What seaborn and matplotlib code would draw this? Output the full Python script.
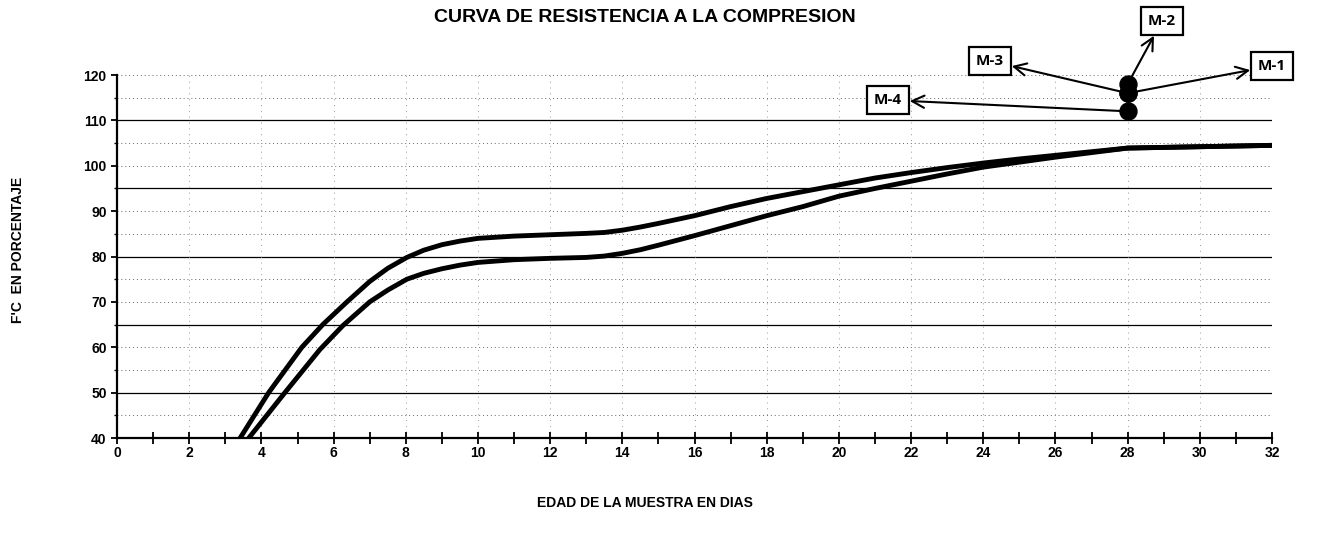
import numpy as np
import pandas as pd
import matplotlib
matplotlib.use("Agg")
import matplotlib.pyplot as plt
import seaborn as sns

# Reference strength-gain envelope (% of f'c versus age in days)
upper_days = [3.41, 4.2, 5.12, 5.7, 6.37, 7.0, 7.5, 8.03, 8.5, 9, 9.5, 10, 11, 12, 13,
              13.5, 14, 14.5, 15, 16, 17, 18, 19, 20, 21, 22, 23, 24, 25, 26, 27, 28,
              30, 32]
upper_pct = [40, 50, 60, 65, 70, 74.5, 77.4, 79.8, 81.4, 82.6, 83.4, 84, 84.5, 84.8,
             85.1, 85.3, 85.8, 86.5, 87.3, 89, 91, 92.8, 94.3, 95.8, 97.3, 98.5, 99.6,
             100.6, 101.5, 102.3, 103.1, 103.9, 104.2, 104.5]
lower_days = [3.65, 4.65, 5.62, 6.26, 7.0, 7.5, 8.03, 8.5, 9, 9.5, 10, 11, 12, 13, 13.5,
              14, 14.5, 15, 16, 17, 18, 19, 20, 21, 22, 23, 24, 25, 26, 27, 28, 30, 32]
lower_pct = [40, 50, 59.5, 64.8, 70, 72.6, 75, 76.3, 77.3, 78.1, 78.7, 79.3, 79.6, 79.8,
             80.1, 80.7, 81.5, 82.5, 84.6, 86.8, 89, 91, 93.3, 95, 96.6, 98.2, 99.7,
             100.8, 101.9, 102.9, 103.9, 104.2, 104.5]

# Tested samples at 28 days
sample_names = ["M-1", "M-2", "M-3", "M-4"]
sample_days = [28, 28, 28, 28]
sample_pct = [116, 118, 116, 112]

x_ticks = list(range(0, 33, 2))
y_ticks = list(range(40, 121, 10))

sns.set_theme(style="white")
plt.rcParams["font.family"] = ["Liberation Sans Narrow", "Liberation Sans", "DejaVu Sans"]
plt.rcParams["font.weight"] = "bold"
for key in ["text.color", "axes.labelcolor", "xtick.color", "ytick.color"]:
    plt.rcParams[key] = "black"

curves = pd.concat([
    pd.DataFrame({"dias": upper_days, "pct": upper_pct, "curva": "superior"}),
    pd.DataFrame({"dias": lower_days, "pct": lower_pct, "curva": "inferior"}),
])
samples = pd.DataFrame({"dias": sample_days, "pct": sample_pct, "muestra": sample_names})

fig = plt.figure(figsize=(13.27, 5.5), dpi=100)
ax = fig.add_axes([0.0882, 0.2036, 0.8704, 0.66])

# background grid: solid every 15 %, dotted in between
for y in range(45, 121, 5):
    if (y - 50) % 15 == 0:
        ax.axhline(y, color="black", lw=0.9, zorder=0)
    else:
        ax.axhline(y, color="#666666", lw=0.7, ls=(0, (1, 3)), zorder=0)
for x in x_ticks[1:]:
    ax.axvline(x, color="#999999", lw=0.7, ls=(0, (1, 5)), zorder=0)

sns.lineplot(data=curves, x="dias", y="pct", hue="curva", units="curva",
             estimator=None, sort=False, palette=["black", "black"],
             linewidth=3.5, legend=False, ax=ax, zorder=3)
for ln in ax.lines[-2:]:
    ln.set_solid_joinstyle("round")
    ln.set_solid_capstyle("round")

sns.scatterplot(data=samples, x="dias", y="pct", color="black", s=150,
                edgecolor="black", legend=False, ax=ax, zorder=5, clip_on=False)

ax.set_xlim(0, 32)
ax.set_ylim(40, 120)
ax.set_xticks(x_ticks)
ax.set_xticks(range(0, 33), minor=True)
ax.set_yticks(y_ticks)
ax.set_yticks(range(45, 120, 10), minor=True)
ax.tick_params(axis="x", which="both", direction="inout", length=8, width=1.3,
               color="black", labelsize=10, pad=2, bottom=True)
ax.tick_params(axis="y", which="major", direction="out", length=4, width=1.3,
               color="black", labelsize=10, left=True)
ax.tick_params(axis="y", which="minor", direction="out", length=2, width=1.0,
               color="black", left=True)
for lab in ax.get_xticklabels() + ax.get_yticklabels():
    lab.set_fontweight("bold")

for side in ["top", "right"]:
    ax.spines[side].set_visible(False)
for side in ["left", "bottom"]:
    ax.spines[side].set_color("black")
    ax.spines[side].set_linewidth(1.6)

ax.set_xlabel("")
ax.set_ylabel("")

fig.text(0.486, 0.968, "CURVA DE RESISTENCIA A LA COMPRESION", ha="center", va="center",
         fontsize=14, fontweight="bold", family=["Liberation Sans", "DejaVu Sans"])
fig.text(0.486, 0.085, "EDAD DE LA MUESTRA EN DIAS", ha="center", va="center",
         fontsize=10, fontweight="bold")
fig.text(0.0135, 0.545, "F'C  EN PORCENTAJE", ha="center", va="center",
         rotation=90, fontsize=10, fontweight="bold")

# sample call-outs
label_pos = {"M-1": (1272, 484), "M-2": (1162, 529), "M-3": (990, 489), "M-4": (888, 450)}
for name, d, p in zip(sample_names, sample_days, sample_pct):
    ax.annotate(name, xy=(d, p), xycoords="data",
                xytext=label_pos[name], textcoords="figure pixels",
                ha="center", va="center", fontsize=11, fontweight="bold",
                family=["Open Sans", "DejaVu Sans"],
                bbox=dict(boxstyle="square,pad=0.45", fc="white", ec="black", lw=1.6),
                arrowprops=dict(arrowstyle="<-,head_length=0.8,head_width=0.4",
                                color="black", lw=1.5, shrinkA=0, shrinkB=4),
                annotation_clip=False, zorder=6)

fig.savefig("out.png", dpi=100, facecolor="white")
